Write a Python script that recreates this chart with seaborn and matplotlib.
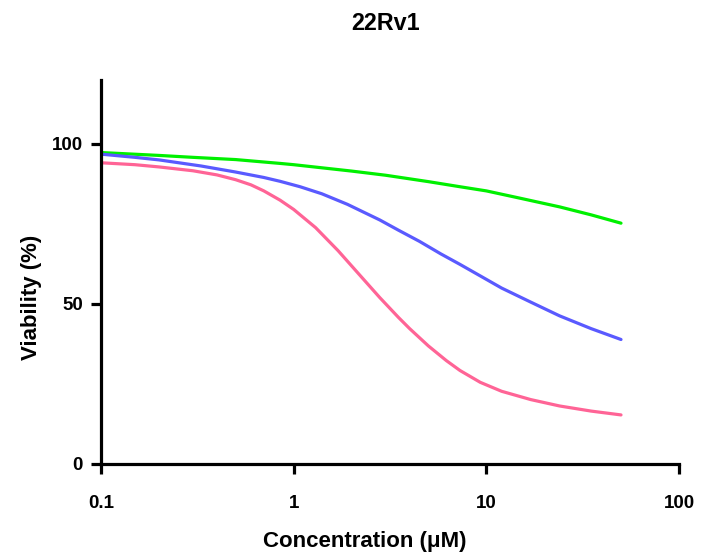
import matplotlib
matplotlib.use("Agg")
import matplotlib.pyplot as plt
import seaborn as sns
import pandas as pd
from matplotlib.ticker import FixedLocator, NullLocator, FixedFormatter

# ---- data (concentration in uM, viability in %) ----
green_conc = [0.1, 0.2, 0.3, 0.5, 0.85, 1, 2, 3, 5, 7.3, 10, 15, 24, 35, 50]
green_viability = [97.3, 96.4, 95.8, 95.1, 93.9, 93.5, 91.5, 90.2, 88.2, 86.6, 85.3, 83.0, 80.3, 77.8, 75.2]

blue_conc = [0.1, 0.15, 0.2, 0.33, 0.5, 0.7, 0.85, 1.08, 1.4, 1.9, 2.8, 3.5, 4.5, 5.8, 7.3, 9.3, 12, 17, 24, 35, 50]
blue_viability = [96.8, 95.8, 95.0, 93.1, 91.2, 89.5, 88.3, 86.6, 84.4, 81.1, 76.2, 73.0, 69.5, 65.6, 62.3, 58.7, 54.9, 50.5, 46.2, 42.2, 38.8]

pink_conc = [0.1, 0.15, 0.2, 0.3, 0.4, 0.5, 0.6, 0.7, 0.85, 1, 1.3, 1.7, 2.2, 2.8, 3.5, 4, 5, 6.2, 7.3, 9.3, 12, 17, 24, 35, 50]
pink_viability = [94.1, 93.5, 92.8, 91.6, 90.3, 88.8, 87.2, 85.3, 82.4, 79.5, 73.8, 66.6, 59.0, 51.9, 45.7, 42.2, 36.8, 32.2, 29.1, 25.4, 22.6, 20.0, 18.0, 16.4, 15.2]

series_names = ["green", "blue", "pink"]
series_colors = ["#00F000", "#5A5AFF", "#FF6496"]
x_ticks = [0.1, 1, 10, 100]
x_tick_labels = ["0.1", "1", "10", "100"]
y_ticks = [0, 50, 100]
y_tick_labels = ["0", "50", "100"]

title_text = "22Rv1"
x_label = "Concentration (μM)"
y_label = "Viability (%)"

df = pd.concat([
    pd.DataFrame({"Concentration": green_conc, "Viability": green_viability, "Series": "green"}),
    pd.DataFrame({"Concentration": blue_conc, "Viability": blue_viability, "Series": "blue"}),
    pd.DataFrame({"Concentration": pink_conc, "Viability": pink_viability, "Series": "pink"}),
], ignore_index=True)

sns.set_theme(style="white")
plt.rcParams["font.family"] = ["Liberation Sans", "DejaVu Sans"]
plt.rcParams["font.weight"] = "bold"
for key in ["text.color", "axes.labelcolor", "xtick.color", "ytick.color"]:
    plt.rcParams[key] = "black"

fig = plt.figure(figsize=(7.01, 5.57), dpi=100)
ax = fig.add_axes([101 / 701, 93.5 / 557, (679 - 101) / 701, (463.5 - 80) / 557])

sns.lineplot(data=df, x="Concentration", y="Viability", hue="Series",
             palette=dict(zip(series_names, series_colors)), linewidth=2.3,
             legend=False, ax=ax, estimator=None, sort=True)

ax.set_xscale("log")
ax.set_xlim(0.1, 100)
ax.set_ylim(0, 120)
ax.xaxis.set_major_locator(FixedLocator(x_ticks))
ax.xaxis.set_major_formatter(FixedFormatter(x_tick_labels))
ax.xaxis.set_minor_locator(NullLocator())
ax.yaxis.set_major_locator(FixedLocator(y_ticks))
ax.yaxis.set_major_formatter(FixedFormatter(y_tick_labels))

for side in ["top", "right"]:
    ax.spines[side].set_visible(False)
for side in ["left", "bottom"]:
    ax.spines[side].set_linewidth(2.3)
    ax.spines[side].set_color("black")

ax.tick_params(axis="both", which="major", direction="out", length=7, width=2.3,
               color="black", labelsize=13.5, bottom=True, left=True)
ax.tick_params(axis="x", pad=16)
ax.tick_params(axis="y", pad=6)
for lab in ax.get_xticklabels() + ax.get_yticklabels():
    lab.set_fontweight("bold")

ax.set_xlabel(x_label, fontsize=16, fontweight="bold", labelpad=13)
ax.set_ylabel(y_label, fontsize=16, fontweight="bold", labelpad=7)
ax.xaxis.label.set_x((365 - 101) / 578)
ax.yaxis.label.set_y((463.5 - 297) / 383.5)
fig.text(386 / 701, 1 - 23.5 / 557, title_text, ha="center", va="center",
         fontsize=16.8, fontweight="bold")

ax.grid(False)
fig.savefig("out.png", dpi=100, facecolor="white")
